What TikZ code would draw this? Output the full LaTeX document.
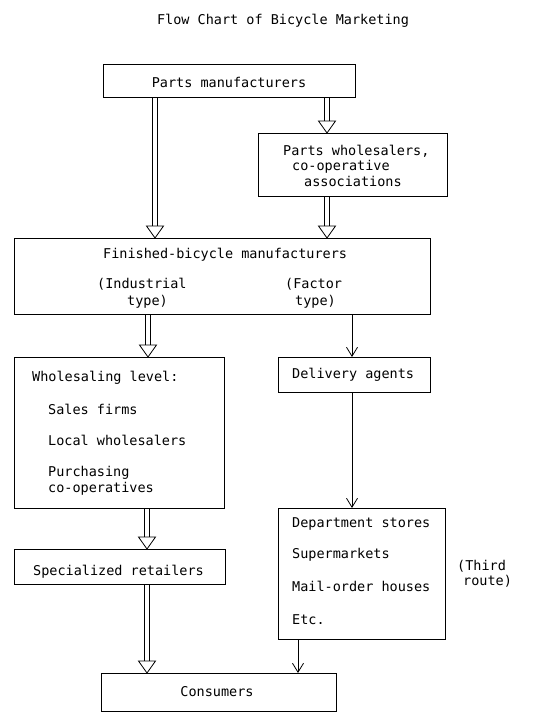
\documentclass[tikz,border=0pt]{standalone}
\usepackage{fontspec}
\newfontfamily\tw{DejaVu Sans Mono}
\usetikzlibrary{calc,arrows.meta}
\tikzset{
 box/.style={draw, line width=0.9pt, inner sep=0pt, anchor=north west},
 txt/.style={anchor=base west, inner sep=0pt, font=\tw\fontsize{13.5}{16}\selectfont},
 ctxt/.style={txt, anchor=base},
 dblline/.style={draw, line width=0.8pt},
 dblhead/.style={draw, line width=0.8pt, fill=white, line join=miter},
 sgl/.style={draw, line width=0.8pt, -{Straight Barb[length=9pt,width=11pt]}},
}
\newcommand\dblarr[2]{%
 \draw[dblline] ($(#1)+(-2.8,0)$) -- ($(#2)+(-2.8,-12)$);
 \draw[dblline] ($(#1)+(2.8,0)$) -- ($(#2)+(2.8,-12)$);
 \draw[dblhead] ($(#2)+(-8.5,-12)$) -- ($(#2)+(8.5,-12)$) -- (#2) -- cycle;}
\begin{document}
\begin{tikzpicture}[x=1pt,y=-1pt]
\useasboundingbox (0,0) rectangle (554,725);
% boxes
\node[box, minimum width=252pt, minimum height=33pt] (pm) at (103,64) {};
\node[box, minimum width=189pt, minimum height=63pt] (pw) at (258,133) {};
\node[box, minimum width=416pt, minimum height=76pt] (fb) at (14,238) {};
\node[box, minimum width=210pt, minimum height=151pt] (wl) at (14,357) {};
\node[box, minimum width=152pt, minimum height=35pt] (da) at (278,357) {};
\node[box, minimum width=167pt, minimum height=131pt] (ds) at (278,508) {};
\node[box, minimum width=211pt, minimum height=35pt] (sr) at (14,549) {};
\node[box, minimum width=235pt, minimum height=38pt] (co) at (101,673) {};
% texts
\node[ctxt] (title) at (283,25) {Flow Chart of Bicycle Marketing};
\node[ctxt] (tpm) at (229,88) {Parts manufacturers};
\node[txt] (tpw1) at (283,155) {Parts wholesalers,};
\node[txt] (tpw2) at (292,170) {co-operative};
\node[txt] (tpw3) at (304,186) {associations};
\node[txt] (tfb) at (103,258) {Finished-bicycle manufacturers};
\node[txt] (tin1) at (97,288) {(Industrial};
\node[txt] (tin2) at (127,305) {type)};
\node[txt] (tfa1) at (285,288) {(Factor};
\node[txt] (tfa2) at (295,305) {type)};
\node[txt] (twl) at (32,381) {Wholesaling level:};
\node[txt] (tsf) at (48,414) {Sales firms};
\node[txt] (tlw) at (48,445) {Local wholesalers};
\node[txt] (tpc1) at (48,476) {Purchasing};
\node[txt] (tpc2) at (48,492) {co-operatives};
\node[txt] (tda) at (292,378) {Delivery agents};
\node[txt] (tds1) at (292,527) {Department stores};
\node[txt] (tds2) at (292,558) {Supermarkets};
\node[txt] (tds3) at (292,591) {Mail-order houses};
\node[txt] (tds4) at (292,624) {Etc.};
\node[txt] (tr1) at (457,570) {(Third};
\node[txt] (tr2) at (463,585) {route)};
\node[txt] (tsr) at (33,575) {Specialized retailers};
\node[ctxt] (tco) at (217,696) {Consumers};
% x positions of connectors
\coordinate (xa) at (155,0);
\coordinate (xb) at (327,0);
\coordinate (xc) at (148,0);
\coordinate (xd) at (352,0);
\coordinate (xe) at (147,0);
\coordinate (xf) at (298,0);
% connectors
\dblarr{pm.south -| xa}{fb.north -| xa}
\dblarr{pm.south -| xb}{pw.north -| xb}
\dblarr{pw.south -| xb}{fb.north -| xb}
\dblarr{fb.south -| xc}{wl.north -| xc}
\draw[sgl] (fb.south -| xd) -- (da.north -| xd);
\draw[sgl] (da.south -| xd) -- (ds.north -| xd);
\dblarr{wl.south -| xe}{sr.north -| xe}
\dblarr{sr.south -| xe}{co.north -| xe}
\draw[sgl] (ds.south -| xf) -- (co.north -| xf);
\end{tikzpicture}
\end{document}
